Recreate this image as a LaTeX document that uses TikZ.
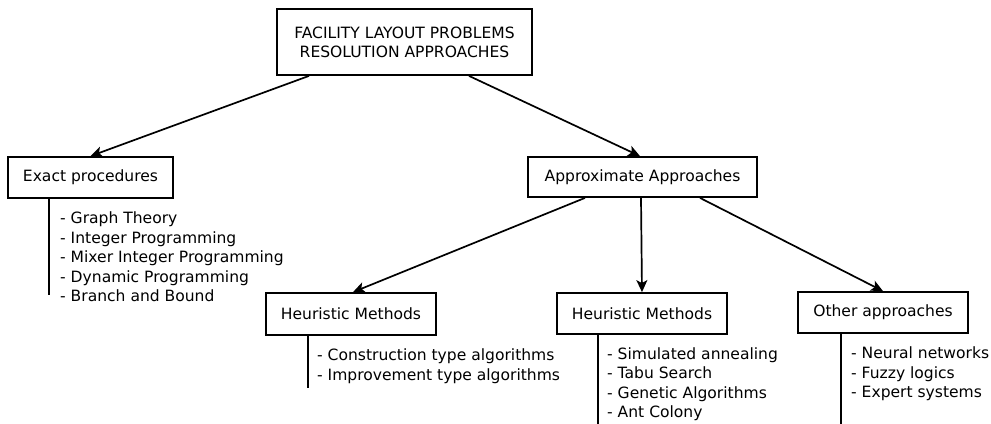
\documentclass[tikz,border=0pt]{standalone}
\usepackage{fontspec}
\setmainfont{DejaVu Sans}
\usetikzlibrary{arrows.meta}
\begin{document}
\begin{tikzpicture}[x=1bp,y=-1bp,
  box/.style={draw, line width=1.8bp, inner sep=0, align=center,
    font=\fontsize{15.6}{19}\selectfont},
  items/.style={anchor=west, align=left, inner sep=0,
    font=\fontsize{15.6}{19.5}\selectfont},
  link/.style={line width=1.7bp, -{Stealth[length=12bp,width=11bp,inset=3bp]}},
  stem/.style={line width=1.7bp}]
\clip (0,0) rectangle (991,423);

% boxes
\node[box, minimum width=255bp, minimum height=66bp] (top) at (404.5,42)
  {FACILITY LAYOUT PROBLEMS\\RESOLUTION APPROACHES};
\node[box, minimum width=165bp, minimum height=41bp] (exact) at (90.5,177.5) {Exact procedures};
\node[box, minimum width=229bp, minimum height=40bp] (approx) at (642.5,177) {Approximate Approaches};
\node[box, minimum width=170bp, minimum height=42bp] (heurA) at (351,314) {Heuristic Methods};
\node[box, minimum width=170bp, minimum height=41bp] (heurB) at (642,313.5) {Heuristic Methods};
\node[box, minimum width=170bp, minimum height=41bp] (other) at (883,312.5) {Other approaches};

% arrows
\draw[link] ([xshift=-95.5bp]top.south) -- (exact.north);
\draw[link] ([xshift=64.5bp]top.south) -- ([xshift=-2.5bp]approx.north);
\draw[link] ([xshift=-57.5bp]approx.south) -- ([xshift=2bp]heurA.north);
\draw[link] ([xshift=-1.5bp]approx.south) -- (heurB.north);
\draw[link] ([xshift=57.5bp]approx.south) -- (other.north);

% stems and item lists
\coordinate (exactEnd) at (49,295);
\coordinate (heurAEnd) at (308,388);
\coordinate (heurBEnd) at (598,425);
\coordinate (otherEnd) at (841,425);
\draw[stem] (exact.south -| exactEnd) -- (exactEnd);
\draw[stem] (heurA.south -| heurAEnd) -- (heurAEnd);
\draw[stem] (heurB.south -| heurBEnd) -- (heurBEnd);
\draw[stem] (other.south -| otherEnd) -- (otherEnd);

\node[items] (exactList) at (60,257)
  {- Graph Theory\\- Integer Programming\\- Mixer Integer Programming\\- Dynamic Programming\\- Branch and Bound};
\node[items] (heurAList) at (317,366)
  {- Construction type algorithms\\- Improvement type algorithms};
\node[items] (heurBList) at (607,384)
  {- Simulated annealing\\- Tabu Search\\- Genetic Algorithms\\- Ant Colony};
\node[items] (otherList) at (851,374)
  {- Neural networks\\- Fuzzy logics\\- Expert systems};
\end{tikzpicture}
\end{document}
